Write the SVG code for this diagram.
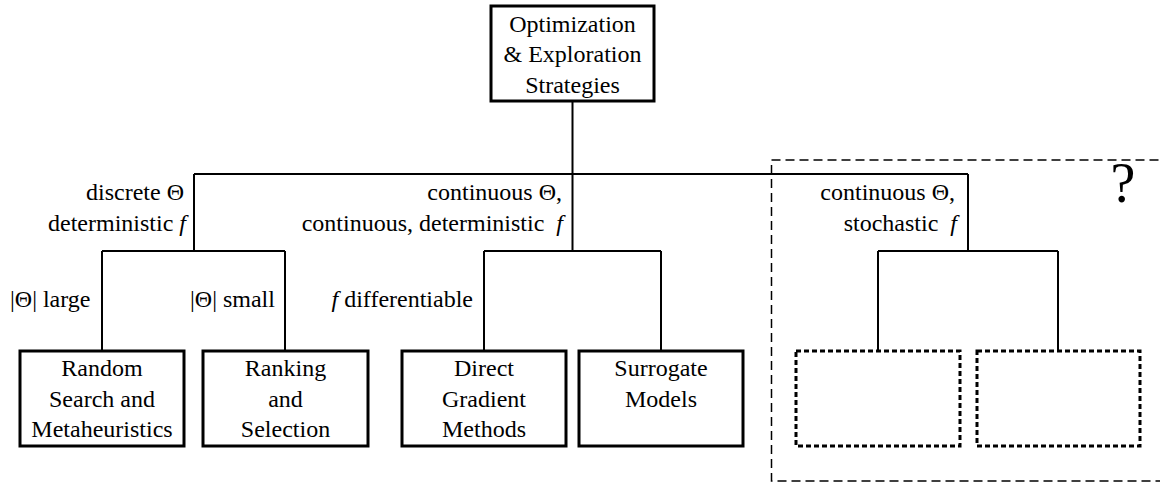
<svg xmlns="http://www.w3.org/2000/svg" width="1160" height="482" viewBox="0 0 1160 482">
  <style>
    .box { fill: #fff; stroke: #000; stroke-width: 3; }
    .open { fill: none; stroke: #000; stroke-width: 3; stroke-dasharray: 5 3; }
    .frame { fill: none; stroke: #000; stroke-width: 1.5; stroke-dasharray: 9 5; }
    .wire { fill: none; stroke: #000; stroke-width: 2; }
    text { font-family: "Liberation Serif", "Times New Roman", serif; font-size: 24px; fill: #000; }
    .c { text-anchor: middle; }
    .r { text-anchor: end; }
    .it { font-style: italic; }
  </style>

  <!-- optional region for the stochastic case -->
  <rect class="frame" x="771.5" y="160" width="400" height="321"/>
  <text x="1123" y="202" class="c" style="font-size:56px">?</text>

  <g id="connectors">
    <path class="wire" d="M572.5 101 V174 M194 174 H968 M194 174 V251 M572.5 174 V251 M968 174 V251"/>
    <path class="wire" d="M102 251 H285 M102 251 V351 M285 251 V351"/>
    <path class="wire" d="M484 251 H661 M484 251 V351 M661 251 V351"/>
    <path class="wire" d="M878 251 H1058 M878 251 V351 M1058 251 V351"/>
  </g>

  <g id="edge-labels">
    <text x="184" y="200" class="r">discrete Θ</text>
    <text x="186" y="231" class="r">deterministic <tspan class="it">f</tspan></text>
    <text x="562" y="200" class="r">continuous Θ,</text>
    <text x="563" y="231" class="r" xml:space="preserve">continuous, deterministic  <tspan class="it">f</tspan></text>
    <text x="955" y="200" class="r">continuous Θ,</text>
    <text x="957" y="231" class="r" xml:space="preserve">stochastic  <tspan class="it">f</tspan></text>
    <text x="10" y="307">|Θ| large</text>
    <text x="190" y="307">|Θ| small</text>
    <text x="473" y="307" class="r"><tspan class="it">f</tspan> differentiable</text>
  </g>

  <g id="root">
    <rect class="box" x="491" y="6" width="163" height="95"/>
    <text x="572.5" y="32" class="c">Optimization</text>
    <text x="572.5" y="62" class="c">&amp; Exploration</text>
    <text x="572.5" y="93" class="c">Strategies</text>
  </g>

  <g id="random-search">
    <rect class="box" x="20" y="351" width="164" height="95"/>
    <text x="102" y="376" class="c">Random</text>
    <text x="102" y="407" class="c">Search and</text>
    <text x="102" y="437" class="c">Metaheuristics</text>
  </g>

  <g id="ranking-selection">
    <rect class="box" x="203" y="351" width="165" height="95"/>
    <text x="285.5" y="376" class="c">Ranking</text>
    <text x="285.5" y="407" class="c">and</text>
    <text x="285.5" y="437" class="c">Selection</text>
  </g>

  <g id="direct-gradient">
    <rect class="box" x="402" y="351" width="164" height="95"/>
    <text x="484" y="376" class="c">Direct</text>
    <text x="484" y="407" class="c">Gradient</text>
    <text x="484" y="437" class="c">Methods</text>
  </g>

  <g id="surrogate">
    <rect class="box" x="579" y="351" width="164" height="95"/>
    <text x="661" y="376" class="c">Surrogate</text>
    <text x="661" y="407" class="c">Models</text>
  </g>

  <g id="open-left">
    <rect class="open" x="796" y="351" width="164" height="95"/>
  </g>

  <g id="open-right">
    <rect class="open" x="977" y="351" width="163" height="95"/>
  </g>
</svg>
